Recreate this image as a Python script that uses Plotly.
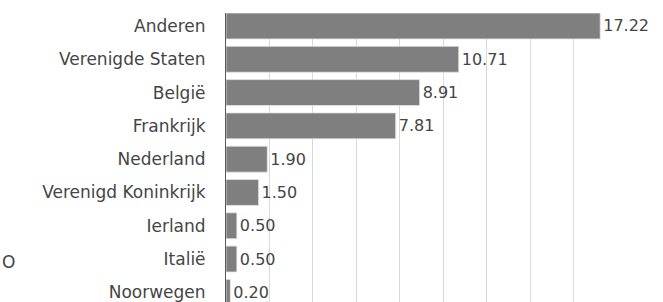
import plotly.graph_objects as go

countries = ["Anderen", "Verenigde Staten", "België", "Frankrijk", "Nederland",
             "Verenigd Koninkrijk", "Ierland", "Italië", "Noorwegen"]
values = [17.22, 10.71, 8.91, 7.81, 1.90, 1.50, 0.50, 0.50, 0.20]

FONT = "DejaVu Sans"
TXT = "#454545"

fig = go.Figure(go.Bar(
    x=values, y=countries, orientation="h",
    marker=dict(color="#7f7f7f", line=dict(color="#e6e6e6", width=0.8)),
    text=values, texttemplate="%{x:.2f}", textposition="outside",
    textfont=dict(family=FONT, size=16, color=TXT),
    cliponaxis=False,
))

fig.update_layout(
    width=663, height=302,
    margin=dict(l=226, r=48, t=13, b=0, pad=0),
    paper_bgcolor="white", plot_bgcolor="white",
    bargap=0.22,
    showlegend=False,
    font=dict(family=FONT, size=17, color=TXT),
    xaxis=dict(range=[0, 17.9], dtick=2, tick0=0, showgrid=True,
               gridcolor="#d9d9d9", gridwidth=1, showticklabels=False,
               zeroline=False, showline=False, ticks=""),
    yaxis=dict(type="category", categoryorder="array", categoryarray=countries,
               range=[8.29, -0.39], showline=True, linecolor="#595959",
               linewidth=1, ticks="", ticklabelstandoff=16,
               tickfont=dict(family=FONT, size=17, color=TXT),
               showgrid=False, zeroline=False),
    annotations=[dict(text="O", xref="paper", yref="paper",
                      x=-226/389, y=(302-262)/289, xanchor="left",
                      yanchor="middle", showarrow=False,
                      font=dict(family=FONT, size=17, color=TXT))],
)

fig.write_html("out.html", config={"displayModeBar": False},
               post_script="document.body.style.margin='0';document.body.style.padding='0';")
